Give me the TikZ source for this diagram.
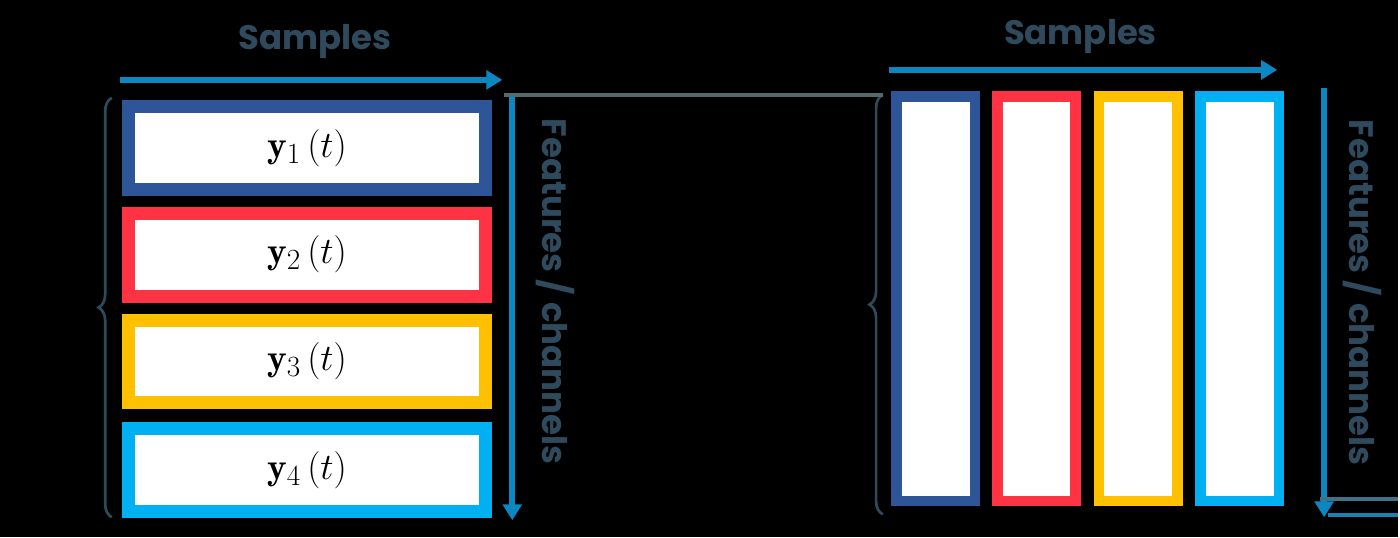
\RequirePackage{fix-cm}
\documentclass[tikz,border=0pt]{standalone}
\usepackage{fontspec}
\usepackage{amsmath}
\usepackage{tikz}
\usetikzlibrary{arrows.meta,decorations.pathreplacing}
\newfontfamily\labelfont{Poppins}
\DeclareMathSizes{28}{28}{22}{16}

\definecolor{navybox}{RGB}{46,85,151}
\definecolor{redbox}{RGB}{255,51,68}
\definecolor{yellowbox}{RGB}{255,192,0}
\definecolor{cyanbox}{RGB}{0,176,240}
\definecolor{arrowblue}{RGB}{11,135,194}
\definecolor{labelgrey}{RGB}{46,74,92}
\definecolor{halo}{RGB}{85,105,108}

\tikzset{
  rowbox/.style={draw=#1, fill=white, text=black, line width=9.75pt, minimum width=268.5pt, minimum height=62.25pt, inner sep=0pt, font=\fontsize{28}{32}\selectfont},
  colbox/.style={draw=#1, fill=white, line width=8pt, minimum width=59pt, minimum height=304pt, inner sep=0pt},
  axisarrow/.style={arrowblue, line width=4.5pt, -{Triangle[length=12pt,width=14pt]}},
  axislabel/.style={labelgrey, font=\labelfont\bfseries\fontsize{25.5}{28}\selectfont},
  bracepath/.style={labelgrey, line width=2pt, decorate, decoration={brace, amplitude=10pt}}
}

\begin{document}
\begin{tikzpicture}[x=0.75pt,y=0.75pt,yscale=-1,xscale=1]
% background, sets the size
\fill[black] (0,0) rectangle (1400,538);

% Left: one row per channel
\node[rowbox=navybox] (row1) at (307.5,148) {$\mathbf{y}_1\,(t)$\hspace{6pt}};
\node[rowbox=redbox] (row2) at (307.5,255) {$\mathbf{y}_2\,(t)$\hspace{6pt}};
\node[rowbox=yellowbox] (row3) at (307.5,362) {$\mathbf{y}_3\,(t)$\hspace{6pt}};
\node[rowbox=cyanbox] (row4) at (307.5,471) {$\mathbf{y}_4\,(t)$\hspace{6pt}};

% Right: one column per sample
\node[colbox=navybox] (col1) at (937,299) {};
\node[colbox=redbox] (col2) at (1038,299) {};
\node[colbox=yellowbox] (col3) at (1140,299) {};
\node[colbox=cyanbox] (col4) at (1241.5,299) {};

% Axis arrows
\coordinate (ls0) at (120,80);
\coordinate (ls1) at (503,80);
\draw[axisarrow] (ls0) -- (ls1);
\coordinate (lf0) at (513,95);
\coordinate (lf1) at (513,521);
\draw[axisarrow] (lf0) -- (lf1);
\coordinate (rs0) at (890,70);
\coordinate (rs1) at (1279,70);
\draw[axisarrow] (rs0) -- (rs1);
\coordinate (rf0) at (1326,88);
\coordinate (rf1) at (1326,518);
\draw[axisarrow] (rf0) -- (rf1);

% Axis labels
\node[axislabel] (lsamples) at (315,42) {Samples};
\node[axislabel] (rsamples) at (1082,37) {Samples};
\node[axislabel, rotate=-90] (lfeat) at (556,292) {Features / channels};
\node[axislabel, rotate=-90] (rfeat) at (1364,293) {Features / channels};

% Braces
\draw[bracepath] (112,518) -- (112,98);
\draw[bracepath] (884,515) -- (884,95);

% Faint guide lines
\coordinate (g0) at (505,95);
\coordinate (g1) at (884,95);
\draw[halo, line width=3pt] (g0) -- (g1);
\coordinate (b0) at (1322,500);
\coordinate (b1) at (1400,500);
\draw[halo!70!arrowblue, line width=3pt] (b0) -- (b1);
\coordinate (b2) at (1330,516);
\coordinate (b3) at (1400,516);
\draw[arrowblue!80!halo, line width=3pt] (b2) -- (b3);

\end{tikzpicture}
\end{document}
